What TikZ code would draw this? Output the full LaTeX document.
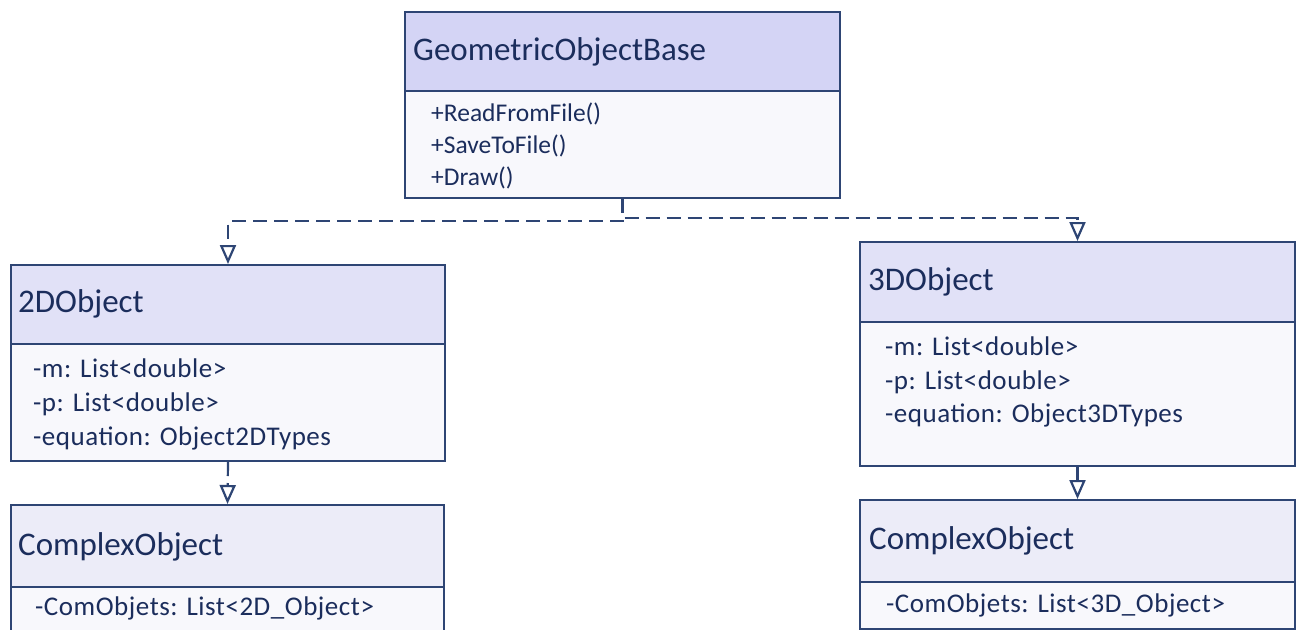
\documentclass[tikz,border=0pt]{standalone}
\usepackage{fontspec}
\setmainfont{Carlito}
\newfontfamily\spacedfont[LetterSpace=2]{Carlito}
\usetikzlibrary{arrows.meta}
\definecolor{edge}{HTML}{2E4574}
\definecolor{ink}{HTML}{1B2D5C}
\definecolor{hdrbase}{HTML}{D4D4F5}
\definecolor{hdrmid}{HTML}{E1E1F7}
\definecolor{hdrlight}{HTML}{ECECF8}
\definecolor{bodyfill}{HTML}{F8F8FC}

\begin{document}
\begin{tikzpicture}[x=1pt,y=-1pt,
  box/.style={draw=edge, line width=2pt, rectangle, inner sep=0pt, anchor=north west},
  title/.style={anchor=base west, inner sep=0pt, text=ink, font=\fontsize{33}{40}\selectfont},
  attr/.style={anchor=base west, inner sep=0pt, text=ink, font=\fontsize{25.5}{32}\selectfont},
  wattr/.style={attr, font=\spacedfont\fontsize{27}{32}\selectfont},
  link/.style={draw=edge, line width=2.2pt, -{Triangle[open, length=19pt, width=16pt, fill=white]}},
  realize/.style={link, dash pattern=on 14pt off 7pt},
  inherit/.style={link}
]
\clip (0,0) rectangle (1298,629);
\fill[white] (0,0) rectangle (1298,629);

% GeometricObjectBase
\node[box, fill=hdrbase, minimum width=435pt, minimum height=79pt] (baseH) at (404,11) {};
\node[box, fill=bodyfill, minimum width=435pt, minimum height=107pt] (baseB) at (404,90) {};
\node[title] (baseT) at (413,60) {GeometricObjectBase};
\node[attr] (baseA1) at (431,121) {+ReadFromFile()};
\node[attr] (baseA2) at (431,153) {+SaveToFile()};
\node[attr] (baseA3) at (431,185) {+Draw()};

% 2DObject
\node[box, fill=hdrmid, minimum width=434pt, minimum height=79pt] (d2H) at (10,264) {};
\node[box, fill=bodyfill, minimum width=434pt, minimum height=117pt] (d2B) at (10,343) {};
\node[title] (d2T) at (18,312) {2DObject};
\node[wattr] (d2A1) at (33,377) {-m: List<double>};
\node[wattr] (d2A2) at (33,411) {-p: List<double>};
\node[wattr] (d2A3) at (33,445) {-equation: Object2DTypes};

% 3DObject
\node[box, fill=hdrmid, minimum width=435pt, minimum height=80pt] (d3H) at (859,241) {};
\node[box, fill=bodyfill, minimum width=435pt, minimum height=144pt] (d3B) at (859,321) {};
\node[title] (d3T) at (868,290) {3DObject};
\node[wattr] (d3A1) at (885,355) {-m: List<double>};
\node[wattr] (d3A2) at (885,389) {-p: List<double>};
\node[wattr] (d3A3) at (885,422) {-equation: Object3DTypes};

% ComplexObject (2D)
\node[box, fill=hdrlight, minimum width=433pt, minimum height=82pt] (clH) at (10,504) {};
\node[box, fill=bodyfill, minimum width=433pt, minimum height=80pt] (clB) at (10,586) {};
\node[title] (clT) at (18,555) {ComplexObject};
\node[wattr] (clA1) at (35,615) {-ComObjets: List<2D\_Object>};

% ComplexObject (3D)
\node[box, fill=hdrlight, minimum width=435pt, minimum height=82pt] (crH) at (859,499) {};
\node[box, fill=bodyfill, minimum width=435pt, minimum height=47pt] (crB) at (859,581) {};
\node[title] (crT) at (869,549) {ComplexObject};
\node[wattr] (crA1) at (886,612) {-ComObjets: List<3D\_Object>};

% Connectors
\draw[realize] (baseB.south) -- ++(0,22) -| (d2H.north);
\draw[realize] (baseB.south) -- ++(0,19) -| (d3H.north);
\draw[realize] (d2B.south) -- (clH.north);
\draw[inherit] (d3B.south) -- (crH.north);
\end{tikzpicture}
\end{document}
